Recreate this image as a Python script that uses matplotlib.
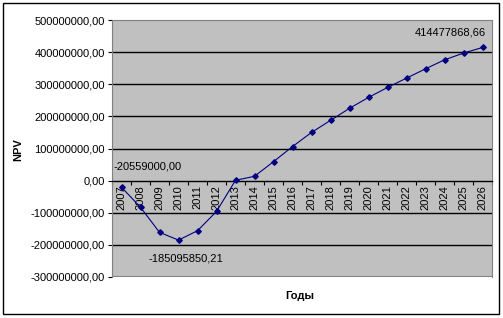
import numpy as np
import matplotlib
matplotlib.use("Agg")
import matplotlib.pyplot as plt
from matplotlib.ticker import FuncFormatter, FixedLocator
from matplotlib.patches import Rectangle

plt.rcParams['font.family'] = ['Liberation Sans', 'DejaVu Sans']

# data (NPV by year)
years = [str(y) for y in range(2007, 2027)]
npv = [-20559000.00, -83e6, -161e6, -185095850.21, -156e6, -96e6, 1e6,
       13.5e6, 59e6, 106e6, 150e6, 187.5e6, 225e6, 259e6, 290e6,
       319e6, 348e6, 376e6, 397e6, 414477868.66]
labelled = [0, 3, 19]
label_offsets = {0: (-6, 15, 'left'), 3: (5, -13, 'center'), 19: (2.5, 11, 'right')}

y_ticks = np.arange(-300e6, 500e6 + 1, 100e6)

def fmt(v):
    return f"{v:.2f}".replace('.', ',')

fig = plt.figure(figsize=(5.03, 3.18), dpi=100)
fig.patches.append(Rectangle((3 / 503, 1 - 314 / 318), 496 / 503, 311 / 318,
                             transform=fig.transFigure, fill=False,
                             edgecolor='black', linewidth=1.0))

ax = fig.add_axes([112 / 503, 1 - 277 / 318, 380 / 503, 257 / 318])
ax.set_facecolor('#C0C0C0')

x = np.arange(len(years))
ax.plot(x, npv, color='#000080', linewidth=0.8, marker='D', markersize=2.8,
        zorder=4)

for i in labelled:
    dx, dy, ha = label_offsets[i]
    ax.annotate(fmt(npv[i]), (x[i], npv[i]), xytext=(dx, dy),
                textcoords='offset points', ha=ha, va='center', fontsize=8)

ax.set_xlim(-0.5, len(years) - 0.5)
ax.set_ylim(y_ticks[0], y_ticks[-1])

# y axis
ax.set_yticks(y_ticks)
ax.yaxis.set_major_formatter(FuncFormatter(lambda v, p: fmt(v)))
ax.tick_params(axis='y', direction='out', length=3, width=0.8, labelsize=8,
               pad=2)
for g in y_ticks[1:-1]:
    if g != 0:
        ax.axhline(g, color='black', linewidth=1.0, zorder=1)

# x axis through zero
ax.spines['bottom'].set_position(('data', 0))
ax.spines['bottom'].set_color('black')
ax.spines['bottom'].set_linewidth(1.0)
for s in ['top', 'right', 'left']:
    ax.spines[s].set_color('#808080')
ax.axhline(y_ticks[0], color='#808080', linewidth=1.5, zorder=3)

ax.xaxis.set_major_locator(FixedLocator(np.arange(-0.5, len(years), 1.0)))
ax.xaxis.set_major_formatter(FuncFormatter(lambda v, p: ''))
ax.xaxis.set_minor_locator(FixedLocator(x))
ax.set_xticklabels(years, minor=True, rotation=90, fontsize=8)
ax.tick_params(axis='x', which='major', direction='out', length=3, width=0.8)
ax.tick_params(axis='x', which='minor', length=0, pad=3.5)

fig.text(18 / 503, 1 - 150 / 318, 'NPV', fontsize=8, fontweight='bold',
         rotation=90, ha='center', va='center')
fig.text(300 / 503, 1 - 296 / 318, 'Годы', fontsize=8, fontweight='bold',
         ha='center', va='center')

fig.savefig('out.png', dpi=100)
